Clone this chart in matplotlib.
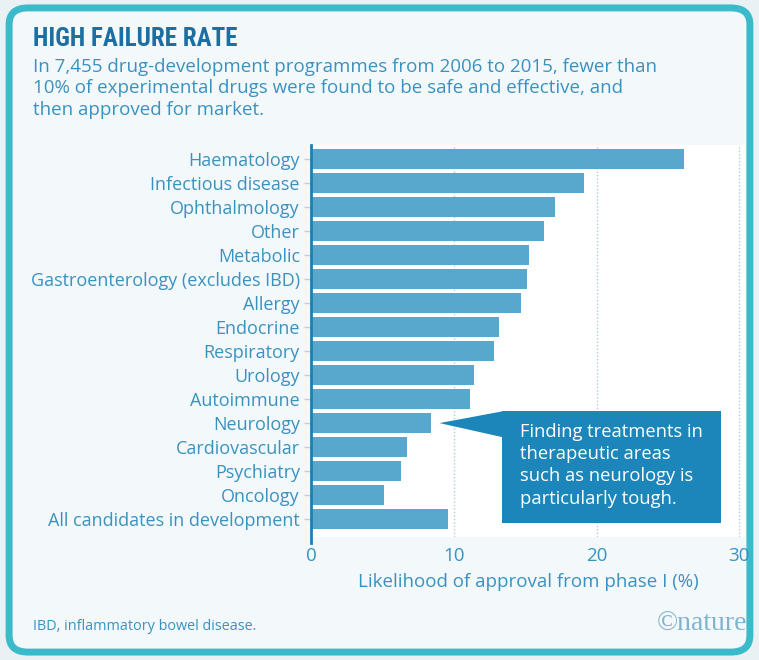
import matplotlib
matplotlib.use("Agg")
import matplotlib.pyplot as plt
from matplotlib.patches import FancyBboxPatch, Polygon, Rectangle

# data
areas = ["Haematology", "Infectious disease", "Ophthalmology", "Other", "Metabolic",
         "Gastroenterology (excludes IBD)", "Allergy", "Endocrine", "Respiratory",
         "Urology", "Autoimmune", "Neurology", "Cardiovascular", "Psychiatry",
         "Oncology", "All candidates in development"]
approval = [26.1, 19.1, 17.1, 16.3, 15.3, 15.1, 14.7, 13.2, 12.8,
            11.4, 11.1, 8.4, 6.7, 6.3, 5.1, 9.6]
xticks = [0, 10, 20, 30]

bar_col = "#58a7cc"
box_col = "#1c86ba"
txt_col = "#3a92c0"
title_col = "#1b6fa3"
panel = "#f3f8fb"
sans = ["Open Sans", "DejaVu Sans"]

fig = plt.figure(figsize=(7.59, 6.60), dpi=100)
fig.patch.set_facecolor("#e9f1f5")

# rounded teal frame
frame = FancyBboxPatch((0.012, 0.012), 0.976, 0.976, boxstyle="round,pad=0,rounding_size=0.025",
                       transform=fig.transFigure, facecolor=panel, edgecolor="#3bbac9",
                       linewidth=5, zorder=-1)
fig.patches.append(frame)

ax = fig.add_axes([0.4098, 0.1864, 0.5718, 0.594])
ax.set_zorder(2)
ax.set_facecolor("white")

pos = list(range(len(areas)))
ax.barh(pos, approval, height=0.83, color=bar_col, zorder=2)
ax.set_ylim(15.75, -0.6)
ax.set_xlim(0, 30.4)

for t in xticks[1:]:
    ax.axvline(t, color="#a9cde2", linestyle=(0, (1, 1.5)), linewidth=1, zorder=1)

for s in ["top", "right", "bottom"]:
    ax.spines[s].set_visible(False)
ax.spines["left"].set_color("#1f7fb3")
ax.spines["left"].set_linewidth(2)
ax.spines["left"].set_bounds(-0.6, 16.0)

ax.set_yticks(pos)
ax.set_yticklabels(areas, fontsize=13, color=txt_col, family=sans)
ax.tick_params(axis="y", length=5, color="#b8d3e3", width=1, pad=3)
ax.set_xticks(xticks)
ax.set_xticklabels([str(t) for t in xticks], fontsize=13.5, color=txt_col, family=sans)
ax.tick_params(axis="x", length=0, pad=7)
ax.set_xlabel("Likelihood of approval from phase I (%)", fontsize=13.5, color=txt_col,
              family=sans, labelpad=6)

# callout box
ax.add_patch(Polygon([(9.0, 11.0), (13.5, 10.5), (13.5, 11.6)], closed=True,
                     facecolor=box_col, edgecolor="none", zorder=3))
ax.add_patch(Rectangle((13.4, 10.5), 15.3, 4.67, facecolor=box_col, edgecolor="none", zorder=3))
ax.text(14.65, 11.0, "Finding treatments in\ntherapeutic areas\nsuch as neurology is\nparticularly tough.",
        color="white", fontsize=13.2, va="top", ha="left", linespacing=1.3,
        family=sans, zorder=4)

# title and subtitle
fig.text(0.0435, 0.931, "HIGH FAILURE RATE", fontsize=18, fontweight="bold", color=title_col,
         family=["Roboto Condensed", "Open Sans Condensed", "DejaVu Sans"],
         fontstretch="condensed", va="baseline")
fig.text(0.0435, 0.912, "In 7,455 drug-development programmes from 2006 to 2015, fewer than\n"
         "10% of experimental drugs were found to be safe and effective, and\n"
         "then approved for market.", fontsize=13.5, color=txt_col, va="top",
         linespacing=1.24, family=sans)

fig.text(0.0435, 0.05, "IBD, inflammatory bowel disease.", fontsize=10.4, color=txt_col,
         family=sans, va="center")
fig.text(0.984, 0.054, "\u00a9nature", fontsize=20, color="#7fb4cf", ha="right", va="center",
         family=["Liberation Serif", "DejaVu Serif"])

fig.savefig("out.png", dpi=100, facecolor=fig.get_facecolor())
